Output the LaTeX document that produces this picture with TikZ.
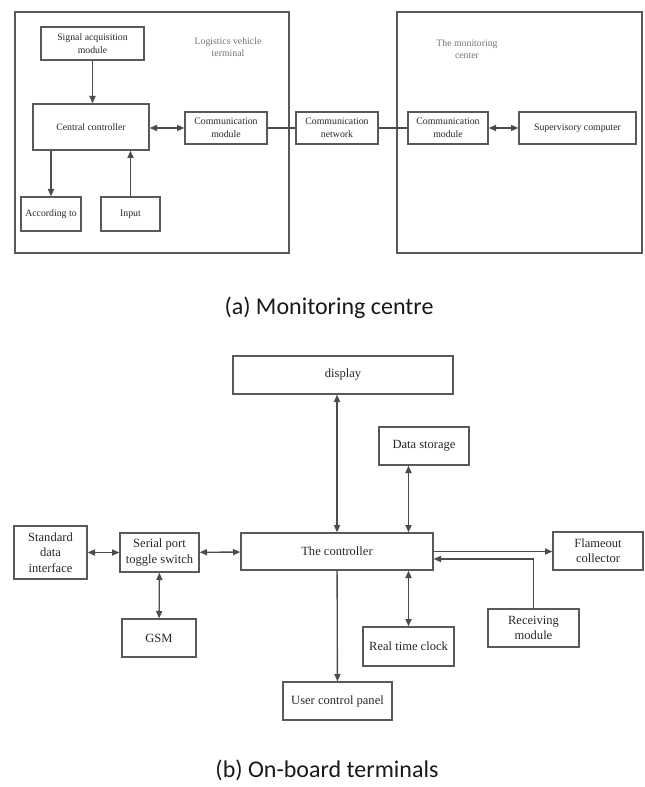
\documentclass[tikz,border=0pt]{standalone}
\usepackage{fontspec}
\setmainfont{Liberation Serif}
\newfontfamily\capfont{Carlito}
\usetikzlibrary{arrows.meta}

\begin{document}
\begin{tikzpicture}[x=0.75pt, y=-0.75pt,
        >={Triangle[length=5.5pt,width=4.6pt]},
        line width=1pt,
        blk/.style={draw=black!65, inner sep=0pt, align=center, text=black!85},
        blka/.style={blk, font=\fontsize{7.35}{9.4}\selectfont},
        blkb/.style={blk, font=\fontsize{9.4}{11.5}\selectfont},
        frame/.style={draw=black!65, inner sep=0pt},
        note/.style={align=center, text=black!55, font=\fontsize{7.35}{9.4}\selectfont},
        caption/.style={text=black!90, font=\capfont\fontsize{18}{22}\selectfont},
        wire/.style={draw=black!70}]
        \useasboundingbox (0,0) rectangle (644,787);

        % frames
        \node[frame, minimum width=205.5pt, minimum height=180.75pt] (term) at (152,132.5) {};
        \node[frame, minimum width=183.75pt, minimum height=180.75pt] (cent) at (519.5,132.5) {};
        \node[note] (termlbl) at (228,47) {Logistics vehicle\\terminal};
        \node[note] (centlbl) at (467,49) {The monitoring\\center};

        % terminal
        \node[blka, minimum width=77.25pt, minimum height=24.75pt] (sig) at (92.5,43.5) {Signal acquisition\\module};
        \node[blka, minimum width=87pt, minimum height=34.5pt] (cctrl) at (91,127) {Central controller};
        \node[blka, minimum width=61.5pt, minimum height=24pt] (vcomm) at (226,128) {Communication\\module};
        \node[blka, minimum width=45pt, minimum height=25.5pt] (outp) at (51,214) {According to};
        \node[blka, minimum width=44.25pt, minimum height=25.5pt] (inp) at (130.5,214) {Input};

        % network and centre
        \node[blka, minimum width=61.5pt, minimum height=24pt] (net) at (337,128) {Communication\\network};
        \node[blka, minimum width=60pt, minimum height=24pt] (mcomm) at (448,128) {Communication\\module};
        \node[blka, minimum width=87.75pt, minimum height=24pt] (sup) at (577.5,128) {Supervisory computer};

        % links (a)
        \draw[wire, ->] (sig.south) -- (sig.south |- cctrl.north);
        \draw[wire, ->] (outp.north |- cctrl.south) -- (outp.north);
        \draw[wire, ->] (inp.north) -- (inp.north |- cctrl.south);
        \draw[wire, <->] (cctrl.east |- vcomm.west) -- (vcomm.west);
        \draw[wire] (vcomm) -- (net);
        \draw[wire] (net) -- (mcomm);
        \draw[wire, <->] (mcomm) -- (sup);

        \node[caption] (capa) at (329,308) {(a) Monitoring centre};

        % on-board terminal
        \node[blkb, minimum width=165pt, minimum height=28.5pt] (disp) at (343,375) {display};
        \node[blkb, minimum width=67.5pt, minimum height=28.5pt] (stor) at (424,446) {Data storage};
        \node[blkb, minimum width=144pt, minimum height=27.75pt] (ctl) at (337,551.5) {The controller};
        \node[blkb, minimum width=54.75pt, minimum height=39.75pt] (std) at (50.5,552.5) {Standard\\data\\interface};
        \node[blkb, minimum width=59.25pt, minimum height=29.25pt] (ser) at (159.5,552.5) {Serial port\\toggle switch};
        \node[blkb, minimum width=55.5pt, minimum height=28.5pt] (gsm) at (159,638) {GSM};
        \node[blkb, minimum width=67.5pt, minimum height=28.5pt] (flm) at (598,551) {Flameout\\collector};
        \node[blkb, minimum width=68.25pt, minimum height=28.5pt] (rcv) at (533.5,628) {Receiving\\module};
        \node[blkb, minimum width=68.25pt, minimum height=29.25pt] (rtc) at (408.5,646.5) {Real time clock};
        \node[blkb, minimum width=81.75pt, minimum height=28.5pt] (ucp) at (337.5,701) {User control panel};

        % links (b)
        \draw[wire, <->] (ctl.north) -- (ctl.north |- disp.south);
        \draw[wire, <->] (stor.south -| rtc.north) -- (ctl.north -| rtc.north);
        \draw[wire, <->] (ctl.south -| rtc.north) -- (rtc.north);
        \draw[wire, <->] (std) -- (ser);
        \draw[wire, <->] (ser) -- (ctl);
        \draw[wire, <->] (ser) -- (gsm);
        \draw[wire, ->] (ctl.east) -- (ctl.east -| flm.west);
        \draw[wire, ->] (rcv.north) |- ([yshift=-5.6pt]ctl.east);
        \draw[wire, ->] (ctl) -- (ucp);

        \node[caption] (capb) at (327,770) {(b) On-board terminals};
    \end{tikzpicture}
\end{document}
